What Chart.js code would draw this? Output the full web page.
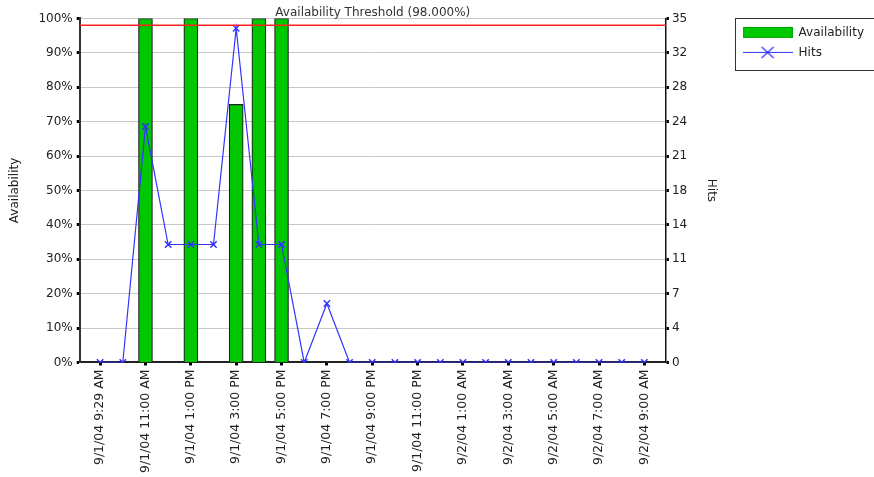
<!DOCTYPE html>
<html>
<head>
<meta charset="utf-8">
<script src="https://cdn.jsdelivr.net/npm/chart.js@4.4.0/dist/chart.umd.min.js"></script>
<style>
  html, body { margin: 0; padding: 0; background: #fff; }
</style>
</head>
<body>
<canvas id="avail_chart" width="874" height="477"></canvas>
<script>
// hourly buckets, first one starts at 9:29
const timeLabels = [
    '9/1/04 9:29 AM', '9/1/04 10:00 AM', '9/1/04 11:00 AM', '9/1/04 12:00 PM',
    '9/1/04 1:00 PM', '9/1/04 2:00 PM', '9/1/04 3:00 PM', '9/1/04 4:00 PM',
    '9/1/04 5:00 PM', '9/1/04 6:00 PM', '9/1/04 7:00 PM', '9/1/04 8:00 PM',
    '9/1/04 9:00 PM', '9/1/04 10:00 PM', '9/1/04 11:00 PM', '9/2/04 12:00 AM',
    '9/2/04 1:00 AM', '9/2/04 2:00 AM', '9/2/04 3:00 AM', '9/2/04 4:00 AM',
    '9/2/04 5:00 AM', '9/2/04 6:00 AM', '9/2/04 7:00 AM', '9/2/04 8:00 AM',
    '9/2/04 9:00 AM',
];
const availability = [null, null, 100, 0, 100, 0, 75, 100, 100, null, 0, null,
    null, null, null, null, null, null, null, null, null, null, null, null, null];
const hits = [0, 0, 24, 12, 12, 12, 34, 12, 12, 0, 6, 0,
    0, 0, 0, 0, 0, 0, 0, 0, 0, 0, 0, 0, 0];
const hitsTickLabels = ['0', '4', '7', '11', '14', '18', '21', '24', '28', '32', '35'];
const threshold = 98;

const FONT = 'DejaVu Sans';
const GREEN = '#00c800';
const BLUE = '#3333ff';

const swatch = (draw) => {
    const c = document.createElement('canvas');
    c.width = 50;
    c.height = 13;
    draw(c.getContext('2d'));
    return c;
};
const availSwatch = swatch(g => {
    g.fillStyle = GREEN;
    g.fillRect(0, 1, 50, 11);
    g.strokeStyle = '#00a800';
    g.strokeRect(0.5, 1.5, 49, 10);
});
const hitsSwatch = swatch(g => {
    g.strokeStyle = BLUE;
    g.lineWidth = 1.2;
    g.beginPath();
    g.moveTo(0, 6.5); g.lineTo(50, 6.5);
    g.moveTo(19, 1); g.lineTo(31, 12);
    g.moveTo(31, 1); g.lineTo(19, 12);
    g.stroke();
});

const thresholdLine = {
    id: 'thresholdLine',
    afterDatasetsDraw(chart) {
        const {ctx, chartArea, scales} = chart;
        const y = scales.y.getPixelForValue(threshold);
        ctx.save();
        ctx.strokeStyle = '#ff2020';
        ctx.lineWidth = 1.5;
        ctx.beginPath();
        ctx.moveTo(chartArea.left, y);
        ctx.lineTo(chartArea.right, y);
        ctx.stroke();
        ctx.restore();
    }
};

const legendFrame = {
    id: 'legendFrame',
    afterDraw(chart) {
        const lg = chart.legend;
        const boxes = lg.legendHitBoxes;
        if (!boxes || !boxes.length) return;
        const last = boxes[boxes.length - 1];
        const ctx = chart.ctx;
        ctx.save();
        ctx.strokeStyle = '#333';
        ctx.lineWidth = 1;
        ctx.strokeRect(Math.round(lg.left) + 0.5, Math.round(lg.top) + 0.5,
            lg.width + 20, last.top + last.height + 12 - lg.top);
        ctx.restore();
    }
};

const data = {
    datasets: [{
        type: 'line',
        label: 'Hits',
        yAxisID: 'y1',
        order: 0,
        data: hits.map((h, i) => ({x: i, y: h})),
        borderColor: BLUE,
        borderWidth: 1.2,
        pointStyle: 'crossRot',
        pointRadius: 4.5,
        pointBorderColor: BLUE,
        pointBorderWidth: 1.5,
        tension: 0
    }, {
        type: 'bar',
        label: 'Availability',
        yAxisID: 'y',
        order: 1,
        data: availability.map((a, i) => ({x: i, y: a})),
        backgroundColor: GREEN,
        borderColor: '#222',
        borderWidth: 1.2,
        barThickness: 14
    }]
};

const config = {
    data: data,
    options: {
        responsive: false,
        animation: false,
        layout: {
            padding: {top: 0, left: 0, right: 0, bottom: 0}
        },
        plugins: {
            title: {
                display: true,
                text: 'Availability Threshold (98.000%)',
                fullSize: false,
                color: '#333',
                font: {family: FONT, size: 12, weight: 'normal'},
                padding: {top: 6, bottom: -2}
            },
            legend: {
                position: 'right',
                align: 'start',
                fullSize: false,
                reverse: true,
                labels: {
                    usePointStyle: true,
                    pointStyleWidth: 50,
                    padding: 8,
                    color: '#222',
                    font: {family: FONT, size: 12},
                    generateLabels: (chart) => {
                        const items = Chart.defaults.plugins.legend.labels.generateLabels(chart);
                        items.forEach(it => {
                            it.pointStyle = it.text === 'Hits' ? hitsSwatch : availSwatch;
                        });
                        return items;
                    }
                }
            },
            tooltip: {enabled: false}
        },
        scales: {
            x: {
                type: 'linear',
                min: -0.9,
                max: 24.95,
                offset: false,
                afterBuildTicks: (scale) => {
                    scale.ticks = timeLabels.map((_, i) => ({value: i}));
                },
                ticks: {
                    autoSkip: false,
                    minRotation: 90,
                    maxRotation: 90,
                    padding: 4,
                    color: '#222',
                    font: {family: FONT, size: 12.5},
                    callback: (v) => (v % 2 === 0 ? timeLabels[v] : '')
                },
                grid: {
                    offset: false,
                    drawOnChartArea: false,
                    tickLength: 3,
                    tickWidth: 3,
                    tickColor: (ctx) => (ctx.index % 2 === 0 ? '#000' : 'rgba(0,0,0,0)')
                },
                border: {color: '#222', width: 2}
            },
            y: {
                position: 'left',
                min: 0,
                max: 100,
                ticks: {
                    stepSize: 10,
                    padding: 4,
                    color: '#222',
                    font: {family: FONT, size: 12},
                    callback: (v) => v + '%'
                },
                title: {
                    display: true,
                    text: 'Availability',
                    color: '#222',
                    font: {family: FONT, size: 12},
                    padding: {top: 8, bottom: 12}
                },
                grid: {
                    color: '#c8c8c8',
                    tickLength: 3,
                    tickWidth: 3,
                    tickColor: '#000'
                },
                border: {color: '#333', width: 2}
            },
            y1: {
                position: 'right',
                min: 0,
                max: 35,
                ticks: {
                    count: 11,
                    padding: 3,
                    color: '#222',
                    font: {family: FONT, size: 12},
                    callback: (v, i) => hitsTickLabels[i]
                },
                title: {
                    display: true,
                    text: 'Hits',
                    color: '#222',
                    font: {family: FONT, size: 12},
                    padding: {top: 16, bottom: 14}
                },
                grid: {
                    drawOnChartArea: false,
                    tickLength: 3,
                    tickWidth: 3,
                    tickColor: '#000'
                },
                border: {color: '#111', width: 1.5}
            }
        }
    },
    plugins: [thresholdLine, legendFrame]
};

const availChart = new Chart(
    document.getElementById('avail_chart'),
    config
);
</script>
</body>
</html>
